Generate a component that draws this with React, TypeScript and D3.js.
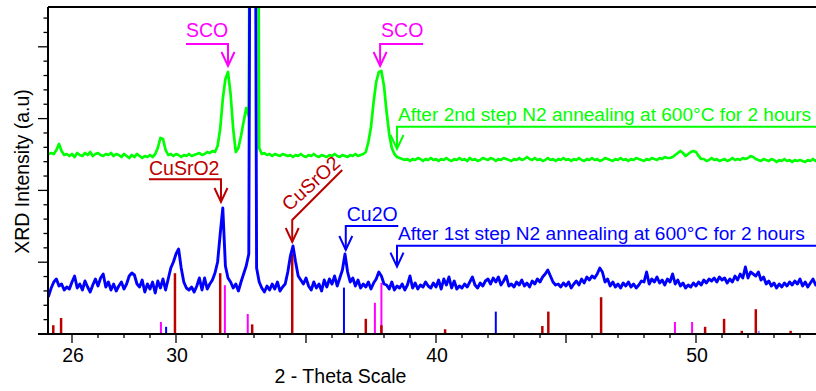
import React from "react";
import * as d3 from "d3";

// 2-theta sampling of the two scans
const THETA_START = 25.0;
const THETA_STEP = 0.1;

// After 1st step N2 annealing (blue), arbitrary units, one row per degree (x.0 .. x.9)
const SCAN_1ST = [
  40, 38, 46, 52, 55, 48, 50, 44, 47, 45,
  52, 58, 46, 50, 44, 53, 47, 42, 49, 55,
  48, 56, 60, 47, 52, 44, 50, 43, 48, 52,
  45, 50, 58, 61, 59, 50, 47, 54, 42, 50,
  45, 52, 41, 53, 46, 55, 44, 55, 66, 72,
  80, 85, 66, 52, 46, 44, 47, 42, 48, 56,
  44, 56, 45, 50, 54, 61, 72, 100, 126, 68,
  56, 52, 46, 50, 43, 52, 60, 68, 80, 900,
  900, 66, 52, 46, 42, 48, 44, 50, 45, 52,
  43, 47, 50, 62, 78, 88, 72, 58, 54, 50,
  56, 48, 44, 52, 46, 50, 43, 54, 47, 55,
  50, 58, 48, 56, 64, 80, 62, 52, 56, 48,
  54, 46, 50, 47, 52, 45, 51, 55, 62, 58,
  50, 49, 45, 52, 44, 48, 46, 50, 44, 49,
  58, 46, 51, 45, 49, 47, 52, 48, 46, 51,
  47, 54, 45, 55, 49, 57, 46, 53, 45, 48,
  46, 50, 47, 52, 57, 49, 46, 51, 48, 53,
  55, 50, 56, 52, 57, 49, 53, 58, 48, 50,
  47, 52, 49, 54, 48, 51, 47, 53, 50, 55,
  52, 57, 60, 64, 58, 52, 49, 50, 47, 51,
  48, 52, 46, 50, 53, 49, 55, 51, 57, 54,
  58, 56, 60, 66, 62, 52, 55, 48, 52, 47,
  50, 46, 51, 48, 52, 47, 50, 46, 49, 53,
  52, 62, 50, 55, 52, 57, 51, 54, 49, 55,
  52, 60, 50, 54, 48, 51, 46, 49, 47, 51,
  48, 52, 49, 54, 51, 55, 53, 56, 52, 57,
  54, 56, 51, 55, 52, 58, 54, 60, 56, 67,
  56, 62, 60, 58, 62, 54, 57, 50, 53, 48,
  51, 46, 50, 47, 51, 48, 52, 49, 53, 50,
  55, 48, 52, 47, 51, 55, 49, 53, 50, 52,
];

// After 2nd step N2 annealing (green)
const SCAN_2ND = [
  180, 180, 181, 180, 184, 190, 183, 179, 180, 178,
  180, 177, 181, 179, 178, 181, 179, 182, 178, 180,
  181, 179, 178, 180, 179, 181, 178, 180, 179, 177,
  180, 178, 176, 179, 177, 180, 178, 176, 178, 177,
  179, 177, 180, 186, 196, 195, 184, 179, 180, 178,
  180, 179, 177, 179, 178, 180, 178, 179, 180, 181,
  179, 180, 182, 181, 183, 182, 188, 205, 235, 255,
  262, 240, 205, 182, 186, 198, 212, 226, 218, 900,
  900, 900, 186, 180, 181, 179, 180, 178, 180, 179,
  178, 180, 179, 178, 179, 177, 179, 178, 180, 178,
  177, 179, 178, 180, 178, 177, 179, 178, 177, 179,
  178, 180, 178, 177, 179, 178, 177, 179, 178, 180,
  178, 179, 180, 182, 192, 207, 232, 252, 262, 263,
  248, 222, 200, 186, 180, 177, 176, 175, 174, 175,
  173, 175, 174, 176, 175, 173, 175, 174, 176, 174,
  175, 173, 175, 174, 176, 174, 173, 175, 174, 176,
  174, 175, 173, 176, 174, 175, 173, 174, 176, 175,
  174, 176, 175, 173, 175, 174, 176, 175, 174, 173,
  175, 174, 176, 174, 175, 177, 175, 174, 176, 174,
  175, 173, 174, 176, 174, 175, 173, 175, 174, 176,
  174, 175, 173, 175, 174, 176, 174, 173, 175, 174,
  176, 174, 175, 173, 174, 176, 175, 174, 173, 175,
  174, 176, 174, 175, 173, 175, 174, 176, 175, 174,
  173, 175, 174, 176, 175, 174, 176, 175, 177, 176,
  176, 177, 179, 181, 183, 181, 178, 180, 182, 183,
  182, 178, 175, 175, 173, 174, 176, 174, 175, 173,
  174, 175, 173, 174, 176, 174, 175, 174, 176, 175,
  176, 178, 177, 175, 174, 173, 175, 174, 173, 175,
  174, 172, 174, 173, 175, 173, 174, 172, 174, 173,
  174, 173, 172, 174, 173, 175, 173, 172, 174, 173,
];

// Reference patterns: [2-theta, relative intensity]
const REF_CUSRO2: [number, number][] = [
  [25.28, 11], [25.58, 20], [29.96, 76], [31.7, 76], [32.93, 12], [34.47, 100],
  [37.3, 19], [37.9, 11], [40.35, 6], [44.09, 10], [44.32, 28], [46.35, 46],
  [50.35, 9], [51.08, 19], [51.76, 4], [52.3, 31], [53.64, 4],
];
const REF_SCO: [number, number][] = [
  [29.42, 15], [31.88, 61], [32.76, 25], [37.65, 39], [37.9, 64], [49.19, 15], [49.85, 15],
];
const REF_CU2O: [number, number][] = [
  [29.62, 9], [36.46, 58], [42.3, 28], [52.41, 4],
];

const X_MINOR_TICKS = [
  26, 27, 28, 29, 30, 31, 32, 33, 34, 35, 36, 37, 38, 39, 40, 41, 42, 43, 44, 45, 46, 47,
  48, 49, 50, 51, 52, 53, 54, 55,
];
const X_MAJOR_TICKS = [26, 30, 35, 40, 45, 50, 55];
const X_TICK_LABELS = [26, 30, 40, 50];

const Y_LABEL = "XRD Intensity (a.u)";
const X_LABEL = "2 - Theta Scale";
const LABEL_2ND = "After 2nd step N2 annealing at 600°C for 2 hours";
const LABEL_1ST = "After 1st step N2 annealing at 600°C for 2 hours";

const W = 816;
const H = 391;
const LEFT = 48;
const TOP = 7;
const BOTTOM = 334;
const RIGHT = 840;

const FONT = "'Liberation Sans', Arial, Helvetica, sans-serif";
const FS = 19.5;
const FS_LONG = 19.1;
const C_GREEN = "#00ff00";
const C_BLUE = "#0000ff";
const C_RED = "#bb0000";
const C_MAG = "#ff00ff";

export default function App() {
  const x = d3.scaleLinear().domain([26, 50]).range([72, 696]);
  const y = d3.scaleLinear().domain([0, 327]).range([BOTTOM, TOP]);
  const yRef = d3.scaleLinear().domain([0, 100]).range([BOTTOM, BOTTOM - 80]);

  const line = d3
    .line<number>()
    .x((_, i) => x(THETA_START + i * THETA_STEP))
    .y((d) => y(d));

  const yMinorStep = 71.8 / 5;
  const yTicks = d3.range(1, 23).map((k) => ({ v: k * yMinorStep, major: k % 5 === 0 }));

  const arrowHead = (tx: number, ty: number, c: string) => (
    <path d={`M${tx - 6.5},${ty - 14}L${tx},${ty}L${tx + 6.5},${ty - 14}`} fill="none" stroke={c} strokeWidth={2} />
  );

  const sco1 = x(32.0);
  const sco2 = x(37.85);
  const cus1 = x(31.73);
  const cus2 = x(34.47);
  const cu2o = x(36.53);
  const aft = x(38.5);

  return (
    <div style={{ position: "fixed", left: 0, top: 0 }}>
      <svg width={W} height={H} style={{ display: "block", background: "#fff" }}>
        <defs>
          <clipPath id="plot">
            <rect x={LEFT} y={TOP} width={RIGHT - LEFT} height={BOTTOM - TOP} />
          </clipPath>
        </defs>

        {/* reference sticks */}
        <g clipPath="url(#plot)">
          {REF_SCO.map(([t, v], i) => (
            <line key={"m" + i} x1={x(t)} x2={x(t)} y1={BOTTOM} y2={yRef(v)} stroke={C_MAG} strokeWidth={2} />
          ))}
          {REF_CU2O.map(([t, v], i) => (
            <line key={"b" + i} x1={x(t)} x2={x(t)} y1={BOTTOM} y2={yRef(v)} stroke={i === 3 ? "#8888ff" : C_BLUE} strokeWidth={2} />
          ))}
          {REF_CUSRO2.map(([t, v], i) => (
            <line key={"r" + i} x1={x(t)} x2={x(t)} y1={BOTTOM} y2={yRef(v)} stroke={C_RED} strokeWidth={2.5} />
          ))}
        </g>

        {/* scans */}
        <g clipPath="url(#plot)">
          <path d={line(SCAN_2ND) || ""} fill="none" stroke={C_GREEN} strokeWidth={2.7} strokeLinejoin="round" />
          <path d={line(SCAN_1ST) || ""} fill="none" stroke={C_BLUE} strokeWidth={2.9} strokeLinejoin="round" />
        </g>

        {/* axes */}
        <g stroke="#000">
          <line x1={LEFT} x2={W} y1={TOP} y2={TOP} strokeWidth={2} />
          <line x1={LEFT} x2={LEFT} y1={TOP} y2={BOTTOM} strokeWidth={2} />
          <line x1={38} x2={W} y1={BOTTOM} y2={BOTTOM} strokeWidth={2} />
          {yTicks.map((t, i) => (
            <line key={"yt" + i} x1={t.major ? 38 : 43.5} x2={LEFT} y1={y(t.v)} y2={y(t.v)} strokeWidth={1.3} />
          ))}
          {X_MINOR_TICKS.map((t) => (
            <line key={"xt" + t} x1={x(t)} x2={x(t)} y1={BOTTOM} y2={BOTTOM + (X_MAJOR_TICKS.includes(t) ? 9 : 4)} strokeWidth={1.3} />
          ))}
        </g>
        <g fontFamily={FONT} fontSize={FS} fill="#000">
          {X_TICK_LABELS.map((t) => (
            <text key={"xl" + t} x={x(t) + 1} y={361.5} textAnchor="middle">
              {t}
            </text>
          ))}
          <text x={340.5} y={383} textAnchor="middle">
            {X_LABEL}
          </text>
          <text transform="translate(28.5,171.5) rotate(-90)" textAnchor="middle">
            {Y_LABEL}
          </text>
        </g>

        {/* annotations */}
        <g fontFamily={FONT} fontSize={FS}>
          {/* SCO 1 */}
          <text x={sco1 - 42} y={36.7} fill={C_MAG}>SCO</text>
          <path d={`M${sco1 - 42},44H${sco1}V66`} fill="none" stroke={C_MAG} strokeWidth={2} />
          {arrowHead(sco1, 66, C_MAG)}
          {/* SCO 2 */}
          <text x={sco2 + 1} y={36.7} fill={C_MAG}>SCO</text>
          <path d={`M${sco2 + 43},44H${sco2}V66`} fill="none" stroke={C_MAG} strokeWidth={2} />
          {arrowHead(sco2, 66, C_MAG)}

          {/* After 2nd */}
          <text x={aft + 1} y={120.7} fill={C_GREEN} fontSize={FS_LONG}>{LABEL_2ND}</text>
          <path d={`M${W + 10},126.7H${aft}V149`} fill="none" stroke={C_GREEN} strokeWidth={2} />
          {arrowHead(aft, 149, C_GREEN)}

          {/* CuSrO2 1 */}
          <text x={cus1 - 72} y={175} fill={C_RED}>CuSrO2</text>
          <path d={`M${cus1 - 72},179.3H${cus1}V202`} fill="none" stroke={C_RED} strokeWidth={2} />
          {arrowHead(cus1, 202, C_RED)}

          {/* CuSrO2 2 (rotated) */}
          <text transform={`translate(${cus2 - 3},212) rotate(-42)`} fill={C_RED}>CuSrO2</text>
          <path d={`M${cus2 + 50},170L${cus2},220V242`} fill="none" stroke={C_RED} strokeWidth={2} />
          {arrowHead(cus2, 242, C_RED)}

          {/* Cu2O */}
          <text x={cu2o + 1} y={220.7} fill={C_BLUE}>Cu2O</text>
          <path d={`M${cu2o + 52.5},226H${cu2o}V250`} fill="none" stroke={C_BLUE} strokeWidth={2} />
          {arrowHead(cu2o, 250, C_BLUE)}

          {/* After 1st */}
          <text x={aft + 1} y={240} fill={C_BLUE} fontSize={FS_LONG}>{LABEL_1ST}</text>
          <path d={`M${W + 10},245.7H${aft}V266.7`} fill="none" stroke={C_BLUE} strokeWidth={2} />
          {arrowHead(aft, 266.7, C_BLUE)}
        </g>
      </svg>
    </div>
  );
}
